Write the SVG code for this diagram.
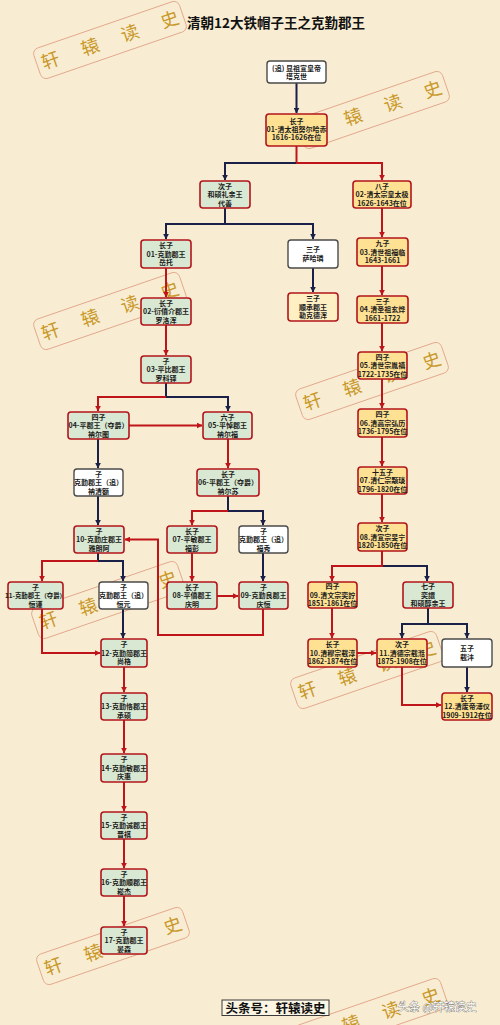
<svg xmlns="http://www.w3.org/2000/svg" width="500" height="1025" viewBox="0 0 500 1025">
<style>
.bg{fill:#F8EDD2}
.nd{stroke:#B3141B;stroke-width:1.6}
.g{fill:#D8E8D2}
.y{fill:#FFE194}
.ly{fill:#FFF0C4}
.w{fill:#FFFFFF;stroke:#4A4A4A;stroke-width:1.4}
.t{font-family:"Noto Sans CJK SC","Noto Sans",sans-serif;font-size:7px;font-weight:bold;fill:#1A1A1A;text-anchor:middle}
.r{fill:none;stroke:#C0141B;stroke-width:2}
.b{fill:none;stroke:#1B2048;stroke-width:2}
.wmt{font-family:"Noto Sans CJK SC",sans-serif;font-size:18px;fill:#C9982A;text-anchor:middle}
.wmr{fill:none;stroke:#E3A88C;stroke-width:0.9}
.title{font-family:"Noto Sans CJK SC",sans-serif;font-size:13.5px;font-weight:bold;fill:#111}
</style>
<defs>
<marker id="ar" viewBox="0 0 10 10" refX="9" refY="5" markerWidth="6" markerHeight="6" markerUnits="userSpaceOnUse" orient="auto"><path d="M0,0 L10,5 L0,10 z" fill="#C0141B"/></marker>
<marker id="ab" viewBox="0 0 10 10" refX="9" refY="5" markerWidth="6" markerHeight="6" markerUnits="userSpaceOnUse" orient="auto"><path d="M0,0 L10,5 L0,10 z" fill="#1B2048"/></marker>
<g id="wm">
<rect class="wmr" x="-77" y="-16" width="154" height="32" rx="6"/>
<text class="wmt" x="-63" y="6.5">轩</text>
<text class="wmt" x="-21" y="6.5">辕</text>
<text class="wmt" x="21" y="6.5">读</text>
<text class="wmt" x="63" y="6.5">史</text>
</g>
</defs>
<rect class="bg" x="0" y="0" width="500" height="1025"/>
<g id="watermarks">
<use href="#wm" transform="translate(110,40) rotate(-19)"/>
<use href="#wm" transform="translate(373,110) rotate(-19)"/>
<use href="#wm" transform="translate(110,311) rotate(-19)"/>
<use href="#wm" transform="translate(372,381) rotate(-19)"/>
<use href="#wm" transform="translate(108,600) rotate(-19)"/>
<use href="#wm" transform="translate(367,670) rotate(-19)"/>
<use href="#wm" transform="translate(113,946) rotate(-19)"/>
<use href="#wm" transform="translate(371,1017) rotate(-19)"/>
</g>
<text class="title" x="187" y="28">清朝12大铁帽子王之克勤郡王</text>
<g id="connectors">
<path class="b" d="M296.5,83 V113" marker-end="url(#ab)"/>
<path class="r" d="M296.5,146 V163"/>
<path class="b" d="M297,163 H225 V180" marker-end="url(#ab)"/>
<path class="r" d="M296,163 H382 V180" marker-end="url(#ar)"/>
<path class="b" d="M225,208 V224 H166 V239" marker-end="url(#ab)"/>
<path class="b" d="M225,224 H313 V239" marker-end="url(#ab)"/>
<path class="b" d="M313,268 V292" marker-end="url(#ab)"/>
<path class="r" d="M166,268 V297" marker-end="url(#ar)"/>
<path class="r" d="M166,325 V355" marker-end="url(#ar)"/>
<path class="b" d="M166,383 V397 H228 V411" marker-end="url(#ab)"/>
<path class="r" d="M166,397 H98 V411" marker-end="url(#ar)"/>
<path class="r" d="M129,425.5 H202" marker-end="url(#ar)"/>
<path class="b" d="M98,439 V468" marker-end="url(#ab)"/>
<path class="r" d="M228,439 V468" marker-end="url(#ar)"/>
<path class="b" d="M98,496 V525" marker-end="url(#ab)"/>
<path class="b" d="M228,496 V511 H263 V525" marker-end="url(#ab)"/>
<path class="r" d="M228,511 H192 V525" marker-end="url(#ar)"/>
<path class="r" d="M192,553 V581" marker-end="url(#ar)"/>
<path class="b" d="M263,553 V581" marker-end="url(#ab)"/>
<path class="r" d="M217,596 H238" marker-end="url(#ar)"/>
<path class="r" d="M263,609 V635 H158 V539.5 H125" marker-end="url(#ar)"/>
<path class="b" d="M98,553 V561 H123 V581" marker-end="url(#ab)"/>
<path class="r" d="M98,561 H42 V581" marker-end="url(#ar)"/>
<path class="r" d="M42,609 V653 H100" marker-end="url(#ar)"/>
<path class="b" d="M123,609 V638" marker-end="url(#ab)"/>
<path class="r" d="M124,667 V692" marker-end="url(#ar)"/>
<path class="r" d="M124,720 V753" marker-end="url(#ar)"/>
<path class="r" d="M124,782 V811" marker-end="url(#ar)"/>
<path class="r" d="M124,839 V868" marker-end="url(#ar)"/>
<path class="r" d="M124,896 V926" marker-end="url(#ar)"/>
<path class="r" d="M382,208 V237" marker-end="url(#ar)"/>
<path class="r" d="M382,266 V295" marker-end="url(#ar)"/>
<path class="r" d="M382,323 V351" marker-end="url(#ar)"/>
<path class="r" d="M382,379 V408" marker-end="url(#ar)"/>
<path class="r" d="M382,437 V466" marker-end="url(#ar)"/>
<path class="r" d="M382,494 V522" marker-end="url(#ar)"/>
<path class="b" d="M382,566 H427 V581" marker-end="url(#ab)"/>
<path class="r" d="M382,551 V566 H332 V581" marker-end="url(#ar)"/>
<path class="r" d="M332,608 V638" marker-end="url(#ar)"/>
<path class="b" d="M428,608 V624 H402 V638" marker-end="url(#ab)"/>
<path class="b" d="M428,624 H467 V638" marker-end="url(#ab)"/>
<path class="r" d="M357,653 H376" marker-end="url(#ar)"/>
<path class="b" d="M467,667 V692" marker-end="url(#ab)"/>
<path class="r" d="M402,667 V705 H441" marker-end="url(#ar)"/>
</g>
<g id="n0"><rect class="w" x="267" y="61" width="59" height="22" rx="3"/><text class="t"><tspan x="296.5" y="70.8">(追) 显祖宣皇帝</tspan><tspan x="296.5" y="79">塔克世</tspan></text></g>
<g id="n1"><rect class="nd y" x="266" y="114" width="61" height="32" rx="3"/><text class="t"><tspan x="296.5" y="123.8">长子</tspan><tspan x="296.5" y="132.1">01-清太祖努尔哈赤</tspan><tspan x="296.5" y="140.4">1616-1626在位</tspan></text></g>
<g id="n2"><rect class="nd g" x="200" y="181" width="50" height="27" rx="3"/><text class="t"><tspan x="225" y="188.6">次子</tspan><tspan x="225" y="197.1">和硕礼亲王</tspan><tspan x="225" y="205.6">代善</tspan></text></g>
<g id="n3"><rect class="nd y" x="353" y="181" width="58" height="27" rx="3"/><text class="t"><tspan x="382" y="188.6">八子</tspan><tspan x="382" y="197.1">02-清太宗皇太极</tspan><tspan x="382" y="205.6">1626-1643在位</tspan></text></g>
<g id="n4"><rect class="nd g" x="141" y="240" width="50" height="28" rx="3"/><text class="t"><tspan x="166" y="248.1">长子</tspan><tspan x="166" y="256.6">01-克勤郡王</tspan><tspan x="166" y="265.1">岳托</tspan></text></g>
<g id="n5"><rect class="w" x="288" y="240" width="50" height="28" rx="3"/><text class="t"><tspan x="313" y="252.4">三子</tspan><tspan x="313" y="260.9">萨哈璘</tspan></text></g>
<g id="n6"><rect class="nd ly" x="288" y="293" width="50" height="28" rx="3"/><text class="t"><tspan x="313" y="301.1">三子</tspan><tspan x="313" y="309.6">顺承郡王</tspan><tspan x="313" y="318.1">勒克德浑</tspan></text></g>
<g id="n7"><rect class="nd y" x="357" y="238" width="51" height="28" rx="3"/><text class="t"><tspan x="382.5" y="246.1">九子</tspan><tspan x="382.5" y="254.6">03.清世祖福临</tspan><tspan x="382.5" y="263.1">1643-1661</tspan></text></g>
<g id="n8"><rect class="nd y" x="357" y="296" width="51" height="27" rx="3"/><text class="t"><tspan x="382.5" y="303.6">三子</tspan><tspan x="382.5" y="312.1">04.清圣祖玄烨</tspan><tspan x="382.5" y="320.6">1661-1722</tspan></text></g>
<g id="n9"><rect class="nd g" x="141" y="298" width="50" height="27" rx="3"/><text class="t"><tspan x="166" y="305.6">长子</tspan><tspan x="166" y="314.1">02-衍僖介郡王</tspan><tspan x="166" y="322.6">罗洛浑</tspan></text></g>
<g id="n10"><rect class="nd g" x="141" y="356" width="50" height="27" rx="3"/><text class="t"><tspan x="166" y="363.6">子</tspan><tspan x="166" y="372.1">03-平比郡王</tspan><tspan x="166" y="380.6">罗科铎</tspan></text></g>
<g id="n11"><rect class="nd g" x="68" y="412" width="61" height="27" rx="3"/><text class="t"><tspan x="98.5" y="419.6">四子</tspan><tspan x="98.5" y="428.1">04-平郡王（夺爵）</tspan><tspan x="98.5" y="436.6">衲尔图</tspan></text></g>
<g id="n12"><rect class="nd g" x="203" y="412" width="49" height="27" rx="3"/><text class="t"><tspan x="227.5" y="419.6">六子</tspan><tspan x="227.5" y="428.1">05-平悼郡王</tspan><tspan x="227.5" y="436.6">衲尔福</tspan></text></g>
<g id="n13"><rect class="w" x="74" y="469" width="49" height="27" rx="3"/><text class="t"><tspan x="98.5" y="476.6">子</tspan><tspan x="98.5" y="485.1">克勤郡王（追）</tspan><tspan x="98.5" y="493.6">衲清额</tspan></text></g>
<g id="n14"><rect class="nd g" x="197" y="469" width="62" height="27" rx="3"/><text class="t"><tspan x="228" y="476.6">长子</tspan><tspan x="228" y="485.1">06-平郡王（夺爵）</tspan><tspan x="228" y="493.6">衲尔苏</tspan></text></g>
<g id="n15"><rect class="nd g" x="74" y="526" width="50" height="27" rx="3"/><text class="t"><tspan x="99" y="533.6">子</tspan><tspan x="99" y="542.1">10-克勤庄郡王</tspan><tspan x="99" y="550.6">雅朗阿</tspan></text></g>
<g id="n16"><rect class="nd g" x="167" y="526" width="50" height="27" rx="3"/><text class="t"><tspan x="192" y="533.6">长子</tspan><tspan x="192" y="542.1">07-平敏郡王</tspan><tspan x="192" y="550.6">福彭</tspan></text></g>
<g id="n17"><rect class="w" x="239" y="526" width="49" height="27" rx="3"/><text class="t"><tspan x="263.5" y="533.6">子</tspan><tspan x="263.5" y="542.1">克勤郡王（追）</tspan><tspan x="263.5" y="550.6">福秀</tspan></text></g>
<g id="n18"><rect class="nd g" x="8" y="582" width="55" height="27" rx="3"/><text class="t"><tspan x="35.5" y="589.6">子</tspan><tspan x="35.5" y="598.1" style="font-size:6.4px">11-克勤郡王（夺爵）</tspan><tspan x="35.5" y="606.6">恒谨</tspan></text></g>
<g id="n19"><rect class="w" x="99" y="582" width="49" height="27" rx="3"/><text class="t"><tspan x="123.5" y="589.6">子</tspan><tspan x="123.5" y="598.1">克勤郡王（追）</tspan><tspan x="123.5" y="606.6">恒元</tspan></text></g>
<g id="n20"><rect class="nd g" x="167" y="582" width="50" height="27" rx="3"/><text class="t"><tspan x="192" y="589.6">长子</tspan><tspan x="192" y="598.1">08-平僖郡王</tspan><tspan x="192" y="606.6">庆明</tspan></text></g>
<g id="n21"><rect class="nd g" x="239" y="582" width="49" height="27" rx="3"/><text class="t"><tspan x="263.5" y="589.6">子</tspan><tspan x="263.5" y="598.1">09-克勤良郡王</tspan><tspan x="263.5" y="606.6">庆恒</tspan></text></g>
<g id="n22"><rect class="nd g" x="101" y="639" width="46" height="28" rx="3"/><text class="t"><tspan x="124" y="647.1">子</tspan><tspan x="124" y="655.6">12-克勤简郡王</tspan><tspan x="124" y="664.1">尚格</tspan></text></g>
<g id="n23"><rect class="nd g" x="101" y="693" width="46" height="27" rx="3"/><text class="t"><tspan x="124" y="700.6">子</tspan><tspan x="124" y="709.1">13-克勤恪郡王</tspan><tspan x="124" y="717.6">承硕</tspan></text></g>
<g id="n24"><rect class="nd g" x="101" y="754" width="46" height="28" rx="3"/><text class="t"><tspan x="124" y="762.1">子</tspan><tspan x="124" y="770.6">14-克勤敏郡王</tspan><tspan x="124" y="779.1">庆惠</tspan></text></g>
<g id="n25"><rect class="nd g" x="101" y="812" width="46" height="27" rx="3"/><text class="t"><tspan x="124" y="819.6">子</tspan><tspan x="124" y="828.1">15-克勤诚郡王</tspan><tspan x="124" y="836.6">晋祺</tspan></text></g>
<g id="n26"><rect class="nd g" x="101" y="869" width="46" height="27" rx="3"/><text class="t"><tspan x="124" y="876.6">子</tspan><tspan x="124" y="885.1">16-克勤顺郡王</tspan><tspan x="124" y="893.6">崧杰</tspan></text></g>
<g id="n27"><rect class="nd g" x="101" y="927" width="46" height="27" rx="3"/><text class="t"><tspan x="124" y="934.6">子</tspan><tspan x="124" y="943.1">17-克勤郡王</tspan><tspan x="124" y="951.6">晏森</tspan></text></g>
<g id="n28"><rect class="nd y" x="358" y="352" width="49" height="27" rx="3"/><text class="t"><tspan x="382.5" y="359.6">四子</tspan><tspan x="382.5" y="368.1">05.清世宗胤禛</tspan><tspan x="382.5" y="376.6">1722-1735在位</tspan></text></g>
<g id="n29"><rect class="nd y" x="358" y="409" width="49" height="28" rx="3"/><text class="t"><tspan x="382.5" y="417.1">四子</tspan><tspan x="382.5" y="425.6">06.清高宗弘历</tspan><tspan x="382.5" y="434.1">1736-1795在位</tspan></text></g>
<g id="n30"><rect class="nd y" x="358" y="467" width="49" height="27" rx="3"/><text class="t"><tspan x="382.5" y="474.6">十五子</tspan><tspan x="382.5" y="483.1">07.清仁宗颙琰</tspan><tspan x="382.5" y="491.6">1796-1820在位</tspan></text></g>
<g id="n31"><rect class="nd y" x="358" y="523" width="49" height="28" rx="3"/><text class="t"><tspan x="382.5" y="531.1">次子</tspan><tspan x="382.5" y="539.6">08.清宣宗旻宁</tspan><tspan x="382.5" y="548.1">1820-1850在位</tspan></text></g>
<g id="n32"><rect class="nd y" x="308" y="582" width="49" height="26" rx="3"/><text class="t"><tspan x="332.5" y="589.1">四子</tspan><tspan x="332.5" y="597.6">09.清文宗奕詝</tspan><tspan x="332.5" y="606.1">1851-1861在位</tspan></text></g>
<g id="n33"><rect class="nd g" x="403" y="582" width="50" height="26" rx="3"/><text class="t"><tspan x="428" y="589.1">七子</tspan><tspan x="428" y="597.6">奕譞</tspan><tspan x="428" y="606.1">和硕醇亲王</tspan></text></g>
<g id="n34"><rect class="nd y" x="308" y="639" width="49" height="28" rx="3"/><text class="t"><tspan x="332.5" y="647.1">长子</tspan><tspan x="332.5" y="655.6">10.清穆宗载淳</tspan><tspan x="332.5" y="664.1">1862-1874在位</tspan></text></g>
<g id="n35"><rect class="nd y" x="377" y="639" width="50" height="28" rx="3"/><text class="t"><tspan x="402" y="647.1">次子</tspan><tspan x="402" y="655.6">11.清德宗载湉</tspan><tspan x="402" y="664.1">1875-1908在位</tspan></text></g>
<g id="n36"><rect class="w" x="442" y="639" width="50" height="28" rx="3"/><text class="t"><tspan x="467" y="651.4">五子</tspan><tspan x="467" y="659.9">载沣</tspan></text></g>
<g id="n37"><rect class="nd y" x="442" y="693" width="50" height="27" rx="3"/><text class="t"><tspan x="467" y="700.6">长子</tspan><tspan x="467" y="709.1">12.清废帝溥仪</tspan><tspan x="467" y="717.6">1909-1912在位</tspan></text></g>
<g id="footer">
<rect x="222" y="1000" width="107" height="15.5" fill="#FBF5E4" stroke="#3A3A3A" stroke-width="1"/>
<text x="275.5" y="1012.5" style="font-family:'Noto Sans CJK SC',sans-serif;font-size:12.5px;font-weight:bold;fill:#111;text-anchor:middle">头条号：轩辕读史</text>
<text x="398" y="1011" style="font-family:'Noto Sans CJK SC',sans-serif;font-size:11px;fill:#FFFFFF;stroke:#555;stroke-width:0.6;paint-order:stroke">头条 @轩辕读史</text>
</g>
</svg>
